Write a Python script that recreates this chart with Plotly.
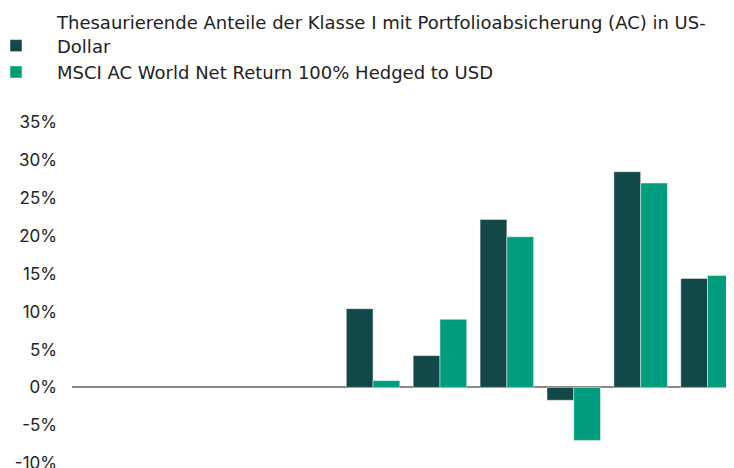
import plotly.graph_objects as go

categories = ["2014", "2015", "2016", "2017", "2018", "2019", "2020", "2021", "2022", "2023"]
fund_name = "Thesaurierende Anteile der Klasse I mit Portfolioabsicherung (AC) in US-<br>Dollar"
bench_name = "MSCI AC World Net Return 100% Hedged to USD"
fund_values = [None, None, None, None, 10.4, 4.2, 22.2, -1.7, 28.5, 14.4]
bench_values = [None, None, None, None, 0.9, 9.0, 19.9, -7.0, 27.0, 14.8]
tick_vals = [-10, -5, 0, 5, 10, 15, 20, 25, 30, 35]
tick_text = ["-10%", "-5%", "0%", "5%", "10%", "15%", "20%", "25%", "30%", "35%"]

FONT = "Inter"
LEGEND_FONT = "DejaVu Sans"
fig = go.Figure()
fig.add_trace(go.Bar(x=categories, y=fund_values, name=fund_name,
                     marker=dict(color="#134848", line=dict(color="rgba(255,255,255,0.45)", width=1))))
fig.add_trace(go.Bar(x=categories, y=bench_values, name=bench_name,
                     marker=dict(color="#009C7E", line=dict(color="rgba(255,255,255,0.45)", width=1))))

m_l, m_r, m_t, m_b = 64, 1, 113, 8
plot_h = 468 - m_t - m_b
plot_w = 734 - m_l - m_r

fig.update_layout(
    width=734, height=468,
    margin=dict(l=m_l, r=m_r, t=m_t, b=m_b, autoexpand=False),
    paper_bgcolor="white", plot_bgcolor="white",
    barmode="group", bargap=0.2, bargroupgap=0,
    font=dict(family=FONT, color="#222222", size=17),
    showlegend=True,
    legend=dict(xref="paper", yref="paper",
                x=-97 / plot_w, y=1 + (m_t + 4) / plot_h,
                xanchor="left", yanchor="top",
                font=dict(family=LEGEND_FONT, size=18, color="#222222"),
                itemwidth=72, valign="bottom", tracegroupgap=0, traceorder="normal"),
    xaxis=dict(showticklabels=False, showgrid=False, zeroline=False, showline=False,
               range=[-0.5, 9.5], fixedrange=True),
    yaxis=dict(range=[-10.65, 35.2], tickvals=tick_vals, ticktext=tick_text,
               showgrid=False, zeroline=True, zerolinecolor="#888888", zerolinewidth=2,
               showline=False, ticks="", ticklabelstandoff=14,
               tickfont=dict(family=FONT, size=17, color="#222222")),
)
fig.write_html("out.html")
